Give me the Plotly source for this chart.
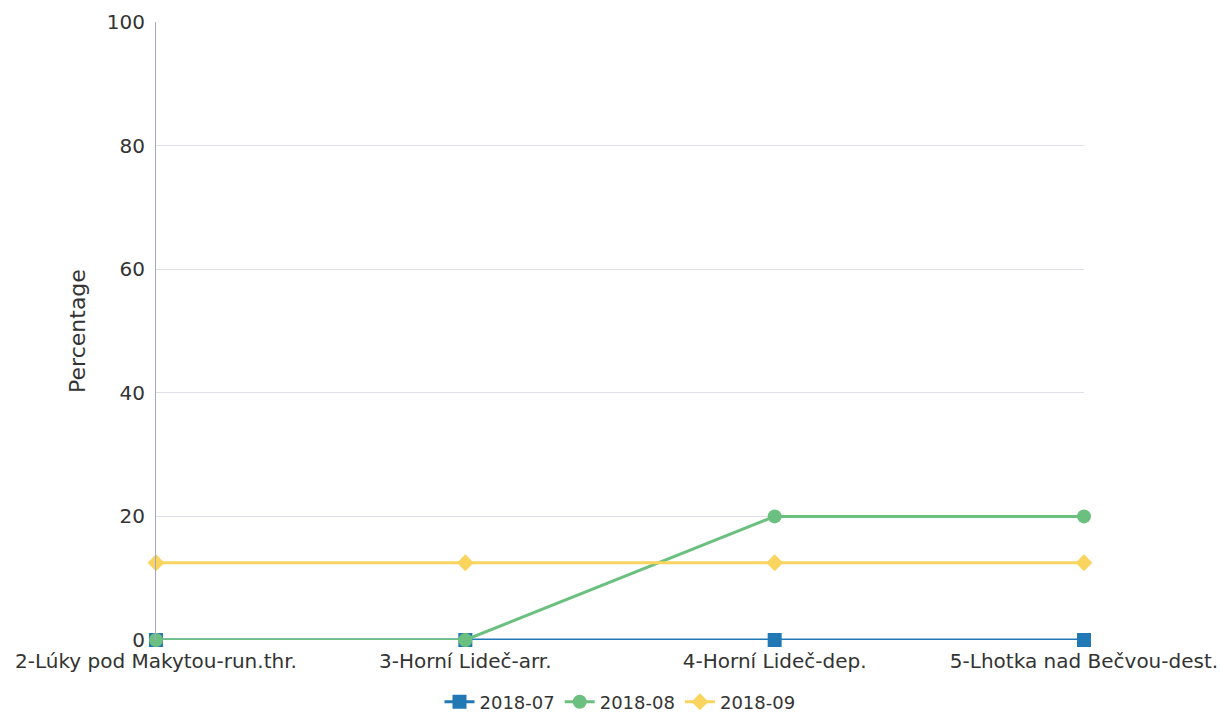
import plotly.graph_objects as go

categories = ["2-Lúky pod Makytou-run.thr.", "3-Horní Lideč-arr.",
              "4-Horní Lideč-dep.", "5-Lhotka nad Bečvou-dest."]
series_names = ["2018-07", "2018-08", "2018-09"]
values_0718 = [0, 0, 0, 0]
values_0818 = [0, 0, 20, 20]
values_0918 = [12.5, 12.5, 12.5, 12.5]

colors = ["#2278b5", "#6cc07f", "#f9d45e"]
symbols = ["square", "circle", "diamond"]
sizes = [14, 14, 13]

fig = go.Figure()
for name, vals, col, sym, sz in zip(series_names,
                                    [values_0718, values_0818, values_0918],
                                    colors, symbols, sizes):
    fig.add_trace(go.Scatter(
        x=list(range(len(categories))), y=vals, name=name,
        mode="lines+markers", cliponaxis=False,
        line=dict(color=col, width=3),
        marker=dict(color=col, symbol=sym, size=sz),
    ))

fig.update_layout(
    width=1221, height=713,
    margin=dict(l=156, r=137, t=22, b=73, autoexpand=False),
    plot_bgcolor="white", paper_bgcolor="white",
    font=dict(family="DejaVu Sans", size=20, color="#333333"),
    showlegend=True,
    legend=dict(orientation="h", x=0.5, xanchor="center", y=-62 / 618,
                yanchor="middle", font=dict(size=18, color="#333333"),
                traceorder="normal", itemwidth=30),
    xaxis=dict(
        range=[0, 3], tickmode="array", automargin=False,
        tickvals=list(range(len(categories))), ticktext=categories,
        showgrid=False, zeroline=False, showline=False,
        ticks="", ticklabelstandoff=7,
        tickfont=dict(size=20, color="#333333"),
    ),
    yaxis=dict(
        range=[0, 100], dtick=20, showgrid=True, gridcolor="#e0e0e8",
        gridwidth=1, zeroline=False, showline=True, linecolor="#a4a4cc",
        linewidth=1, ticks="", ticklabelstandoff=6, automargin=False,
        tickfont=dict(size=20, color="#333333"),
        title=dict(text="Percentage", font=dict(size=22, color="#333333"),
                   standoff=15),
    ),
)

fig.write_html("out.html")
